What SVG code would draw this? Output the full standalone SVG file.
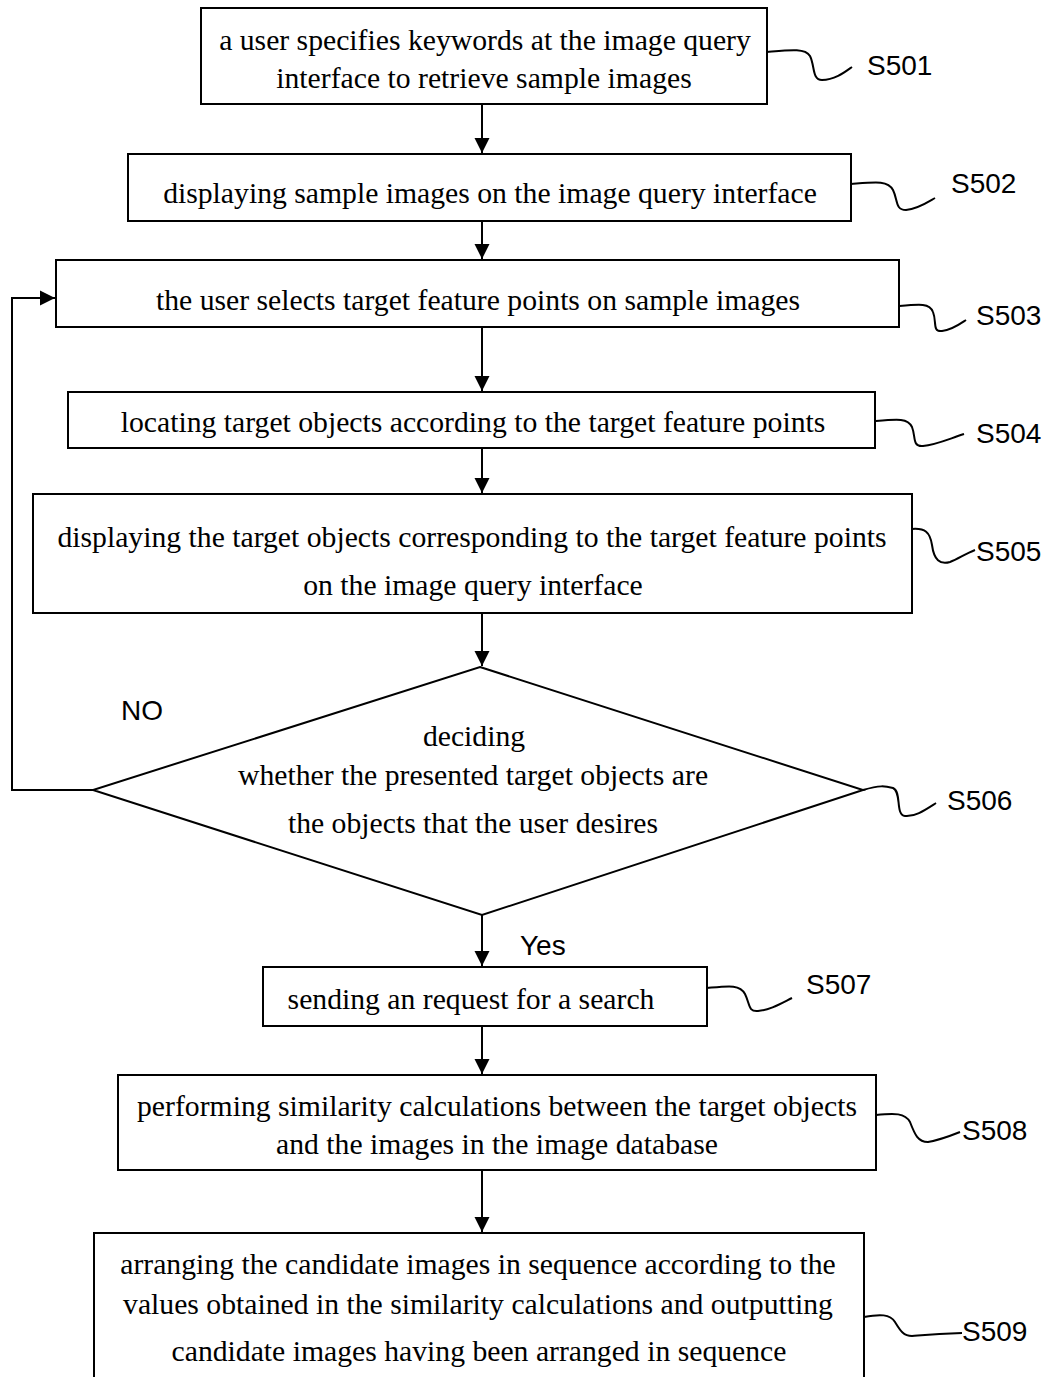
<svg xmlns="http://www.w3.org/2000/svg" width="1050" height="1377" viewBox="0 0 1050 1377">
<style>
.box{fill:#fff;stroke:#000;stroke-width:2}
.t{font-family:"Liberation Serif","Times New Roman",serif;font-size:29.7px;fill:#000;text-anchor:middle}
.lbl{font-family:"Liberation Sans",Arial,sans-serif;font-size:28px;fill:#000}
.sq{fill:none;stroke:#000;stroke-width:2}
.c{fill:none;stroke:#000;stroke-width:2}
</style>
<defs>
<marker id="ah" markerWidth="15" markerHeight="16" refX="15" refY="8" orient="auto" markerUnits="userSpaceOnUse">
<path d="M0,0.5 L15,8 L0,15.5 Z" fill="#000"/>
</marker>
</defs>
<rect width="1050" height="1377" fill="#fff"/>
<g id="connectors">
<line class="c" x1="482" y1="104" x2="482" y2="153" marker-end="url(#ah)"/>
<line class="c" x1="482" y1="221" x2="482" y2="259" marker-end="url(#ah)"/>
<line class="c" x1="482" y1="327" x2="482" y2="391" marker-end="url(#ah)"/>
<line class="c" x1="482" y1="448" x2="482" y2="493" marker-end="url(#ah)"/>
<line class="c" x1="482" y1="613" x2="482" y2="666" marker-end="url(#ah)"/>
<line class="c" x1="482" y1="915" x2="482" y2="966" marker-end="url(#ah)"/>
<line class="c" x1="482" y1="1026" x2="482" y2="1074" marker-end="url(#ah)"/>
<line class="c" x1="482" y1="1170" x2="482" y2="1232" marker-end="url(#ah)"/>
<polyline class="c" points="93,790 12,790 12,298 55,298" marker-end="url(#ah)"/>
<text class="lbl" x="121" y="720">NO</text>
<text class="lbl" x="520" y="955">Yes</text>
</g>
<g id="S501">
<rect class="box" x="201" y="8" width="566" height="96"/>
<text class="t" x="485" y="50">a user specifies keywords at the image query</text>
<text class="t" x="484" y="88">interface to retrieve sample images</text>
<path class="sq" d="M767,52 C790,50 805,48 810,56 C815,66 812,80 822,80 C835,80 845,72 852,67"/>
<text class="lbl" x="867" y="75">S501</text>
</g>
<g id="S502">
<rect class="box" x="128" y="154" width="723" height="67"/>
<text class="t" x="490" y="203">displaying sample images on the image query interface</text>
<path class="sq" d="M851,184 C875,182 888,180 893,190 C898,200 895,210 906,210 C918,209 928,202 935,198"/>
<text class="lbl" x="951" y="193">S502</text>
</g>
<g id="S503">
<rect class="box" x="56" y="260" width="843" height="67"/>
<text class="t" x="478" y="310">the user selects target feature points  on sample images</text>
<path class="sq" d="M899,306 C920,304 930,303 933,312 C937,322 932,332 942,331 C952,330 960,324 966,320"/>
<text class="lbl" x="976" y="325">S503</text>
</g>
<g id="S504">
<rect class="box" x="68" y="392" width="807" height="56"/>
<text class="t" x="473" y="432">locating target objects according to the target feature points</text>
<path class="sq" d="M875,421 C898,419 908,418 912,427 C916,437 912,447 923,446 C935,445 946,440 964,434"/>
<text class="lbl" x="976" y="443">S504</text>
</g>
<g id="S505">
<rect class="box" x="33" y="494" width="879" height="119"/>
<text class="t" x="472" y="547">displaying the target objects corresponding to the target feature points</text>
<text class="t" x="473" y="595">on the image query interface</text>
<path class="sq" d="M912,529 C925,528 930,532 932,545 C934,560 940,565 950,562 C958,559 965,554 975,550"/>
<text class="lbl" x="976" y="561">S505</text>
</g>
<g id="S506">
<polygon class="box" points="480,667 863,790 482,915 93,790"/>
<text class="t" x="474" y="746">deciding</text>
<text class="t" x="473" y="785">whether the presented target objects are</text>
<text class="t" x="473" y="833">the objects that the user desires</text>
<path class="sq" d="M863,790 C880,785 885,786 893,788 C902,792 895,815 905,816 C915,817 925,810 936,803"/>
<text class="lbl" x="947" y="810">S506</text>
</g>
<g id="S507">
<rect class="box" x="263" y="967" width="444" height="59"/>
<text class="t" x="471" y="1009">sending an request for a search</text>
<path class="sq" d="M707,988 C728,986 740,984 745,994 C750,1004 748,1012 758,1011 C770,1010 780,1004 792,998"/>
<text class="lbl" x="806" y="994">S507</text>
</g>
<g id="S508">
<rect class="box" x="118" y="1075" width="758" height="95"/>
<text class="t" x="497" y="1116">performing similarity calculations between the target objects</text>
<text class="t" x="497" y="1154">and the images in the image database</text>
<path class="sq" d="M876,1115 C895,1113 905,1113 910,1122 C915,1135 918,1142 928,1142 C940,1140 950,1136 960,1132"/>
<text class="lbl" x="962" y="1140">S508</text>
</g>
<g id="S509">
<rect class="box" x="94" y="1233" width="770" height="160"/>
<text class="t" x="478" y="1274">arranging the candidate images in sequence according to the</text>
<text class="t" x="478" y="1314">values obtained in the similarity calculations and outputting</text>
<text class="t" x="479" y="1361">candidate images having been arranged in sequence</text>
<path class="sq" d="M864,1317 C880,1314 890,1314 895,1322 C900,1330 903,1336 912,1336 C925,1335 935,1334 962,1333"/>
<text class="lbl" x="962" y="1341">S509</text>
</g>
</svg>
